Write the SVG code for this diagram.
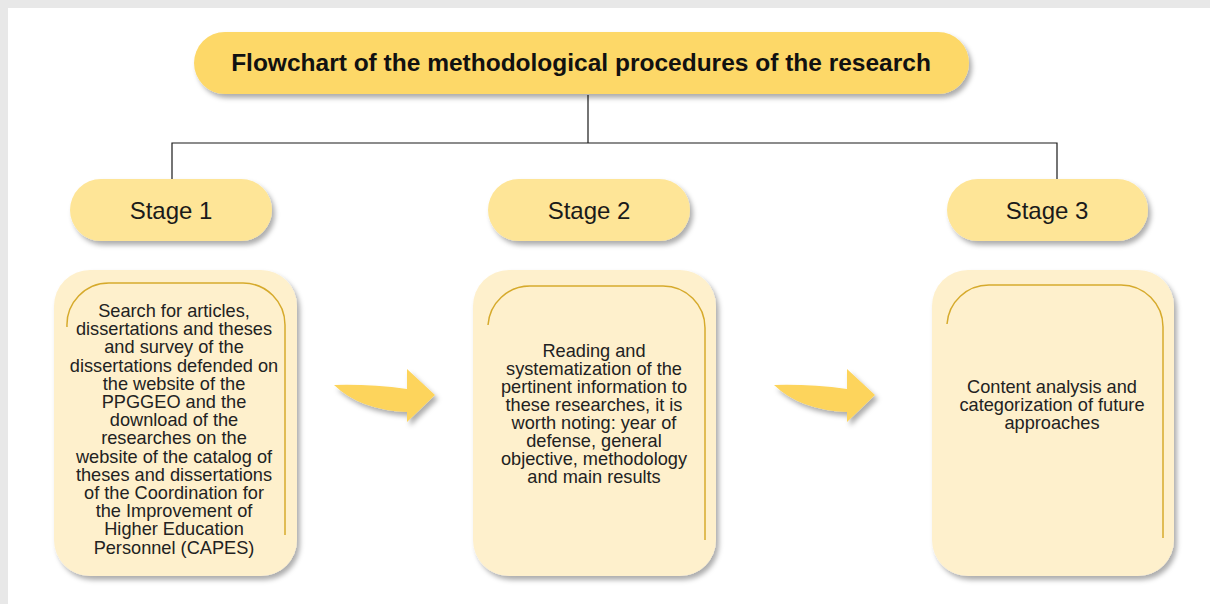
<svg xmlns="http://www.w3.org/2000/svg" width="1210" height="604" viewBox="0 0 1210 604">
<defs>
<filter id="sh" x="-10%" y="-10%" width="125%" height="130%">
<feDropShadow dx="3" dy="4" stdDeviation="2.5" flood-color="#000" flood-opacity="0.32"/>
</filter>
<style>
.title{fill:#FDD868}
.stage{fill:#FEE597}
.box{fill:#FEF0CC}
.gold{fill:none;stroke:#D6AA2C;stroke-width:1.5}
.arrow{fill:#FDD45C}
.conn{fill:none;stroke:#1a1a1a;stroke-width:1.2}
.tt{font-family:"Liberation Sans",Arial,sans-serif;font-weight:bold;font-size:24.5px;fill:#111;text-anchor:middle}
.st{font-family:"Liberation Sans",Arial,sans-serif;font-size:24px;fill:#1a1a1a;text-anchor:middle}
.bt{font-family:"Liberation Sans",Arial,sans-serif;font-size:18.2px;fill:#222;text-anchor:middle}
</style>
</defs>
<rect x="0" y="0" width="1210" height="604" fill="#E8E8E8"/>
<rect x="8" y="8" width="1202" height="596" fill="#FFFFFF"/>

<g id="connectors">
<path class="conn" d="M588,95 V143 M172,179 V143 H1057 V179"/>
</g>

<g id="title">
<rect class="title" x="194" y="32" width="775" height="62" rx="31" filter="url(#sh)"/>
<text class="tt" x="581" y="71">Flowchart of the methodological procedures of the research</text>
</g>

<g id="stage1">
<rect class="stage" x="70" y="179" width="202" height="62" rx="31" filter="url(#sh)"/>
<text class="st" x="171" y="219">Stage 1</text>
</g>
<g id="stage2">
<rect class="stage" x="488" y="179" width="202" height="62" rx="31" filter="url(#sh)"/>
<text class="st" x="589" y="219">Stage 2</text>
</g>
<g id="stage3">
<rect class="stage" x="947" y="179" width="201" height="62" rx="31" filter="url(#sh)"/>
<text class="st" x="1047" y="219">Stage 3</text>
</g>

<g id="box1">
<rect class="box" x="54" y="270" width="243" height="306" rx="36" filter="url(#sh)"/>
<path class="gold" d="M67,327 A42,42 0 0 1 109,283 H243 A42,42 0 0 1 285,325 V535"/>
<text class="bt" x="174" y="317">Search for articles,</text>
<text class="bt" x="174" y="335.2">dissertations and theses</text>
<text class="bt" x="174" y="353.4">and survey of the</text>
<text class="bt" x="174" y="371.6">dissertations defended on</text>
<text class="bt" x="174" y="389.8">the website of the</text>
<text class="bt" x="174" y="408">PPGGEO and the</text>
<text class="bt" x="174" y="426.2">download of the</text>
<text class="bt" x="174" y="444.4">researches on the</text>
<text class="bt" x="174" y="462.6">website of the catalog of</text>
<text class="bt" x="174" y="480.8">theses and dissertations</text>
<text class="bt" x="174" y="499">of the Coordination for</text>
<text class="bt" x="174" y="517.2">the Improvement of</text>
<text class="bt" x="174" y="535.4">Higher Education</text>
<text class="bt" x="174" y="553.6">Personnel (CAPES)</text>
</g>

<g id="box2">
<rect class="box" x="473" y="270" width="243" height="306" rx="36" filter="url(#sh)"/>
<path class="gold" d="M488,325 A42,42 0 0 1 530,286 H663 A42,42 0 0 1 705,328 V540"/>
<text class="bt" x="594" y="357">Reading and</text>
<text class="bt" x="594" y="375">systematization of the</text>
<text class="bt" x="594" y="393">pertinent information to</text>
<text class="bt" x="594" y="411">these researches, it is</text>
<text class="bt" x="594" y="429">worth noting: year of</text>
<text class="bt" x="594" y="447">defense, general</text>
<text class="bt" x="594" y="465">objective, methodology</text>
<text class="bt" x="594" y="483">and main results</text>
</g>

<g id="box3">
<rect class="box" x="932" y="270" width="242" height="306" rx="36" filter="url(#sh)"/>
<path class="gold" d="M947,324 A42,42 0 0 1 989,285 H1121 A42,42 0 0 1 1163,327 V538"/>
<text class="bt" x="1052" y="393">Content analysis and</text>
<text class="bt" x="1052" y="411">categorization of future</text>
<text class="bt" x="1052" y="429">approaches</text>
</g>

<g id="arrow1">
<path class="arrow" filter="url(#sh)" d="M334,385 Q370,384 407,389 L407,369 L435,395 L407,422 L407,412 Q360,410 334,385 Z"/>
</g>
<g id="arrow2">
<path class="arrow" filter="url(#sh)" d="M774,385 Q810,384 847,389 L847,369 L875,395 L847,422 L847,412 Q800,410 774,385 Z"/>
</g>
</svg>
